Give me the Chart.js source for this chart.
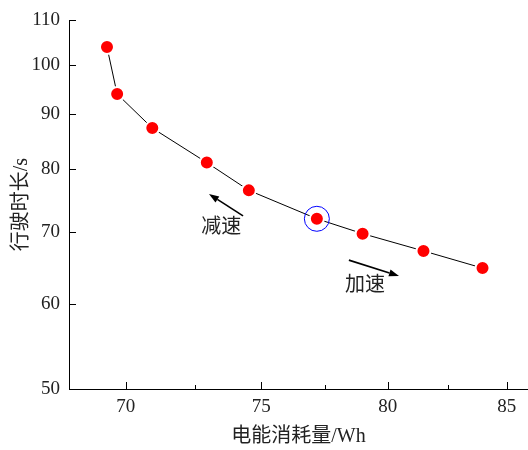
<!DOCTYPE html>
<html>
<head>
<meta charset="utf-8">
<script src="https://cdn.jsdelivr.net/npm/chart.js@4/dist/chart.umd.min.js"></script>
<style>
html,body{margin:0;padding:0;background:#fff;}
#wrap{width:528px;height:450px;}
</style>
</head>
<body>
<div id="wrap"><canvas id="c" width="528" height="450"></canvas></div>
<script>
// ---- data ----
const energy = [69.33, 69.69, 70.95, 72.95, 74.53, 77.16, 78.98, 81.47, 83.96];
const duration = [103.9, 93.97, 87.37, 81.15, 76.47, 71.96, 69.71, 67.18, 64.76];
const highlightIndex = 5;
const xTicks = [70, 75, 80, 85];
const xMinorTicks = [72.5, 77.5, 82.5];
const yTicks = [50, 60, 70, 80, 90, 100, 110];
const xTitle = '电能消耗量/Wh';
const yTitle = '行驶时长/s';
const annotations = [
  {label: '减速', from: [74.31, 72.42], to: [73.03, 75.87], text: [73.49, 70.55]},
  {label: '加速', from: [78.43, 65.87], to: [80.46, 63.68], text: [79.08, 62.35]}
];

const FONT = '"Liberation Serif", "Noto Sans CJK SC", serif';

const ticksAndArrows = {
  id: 'ticksAndArrows',
  afterDatasetsDraw(chart) {
    const ctx = chart.ctx;
    const xs = chart.scales.x, ys = chart.scales.y;
    const area = chart.chartArea;
    ctx.save();
    ctx.strokeStyle = '#000';
    ctx.lineWidth = 1;
    ctx.beginPath();
    xTicks.forEach(v => {
      const px = Math.round(xs.getPixelForValue(v)) + 0.5;
      ctx.moveTo(px, area.bottom); ctx.lineTo(px, area.bottom - 7);
    });
    xMinorTicks.forEach(v => {
      const px = Math.round(xs.getPixelForValue(v)) + 0.5;
      ctx.moveTo(px, area.bottom); ctx.lineTo(px, area.bottom - 4);
    });
    yTicks.forEach(v => {
      const py = Math.round(ys.getPixelForValue(v)) + 0.5;
      ctx.moveTo(area.left, py); ctx.lineTo(area.left + 7, py);
    });
    ctx.stroke();

    annotations.forEach(a => {
      const x1 = xs.getPixelForValue(a.from[0]), y1 = ys.getPixelForValue(a.from[1]);
      const x2 = xs.getPixelForValue(a.to[0]), y2 = ys.getPixelForValue(a.to[1]);
      const ang = Math.atan2(y2 - y1, x2 - x1);
      const hl = 10, hw = 3.5;
      const bx = x2 - hl * Math.cos(ang), by = y2 - hl * Math.sin(ang);
      ctx.beginPath();
      ctx.lineWidth = 1.6;
      ctx.moveTo(x1, y1); ctx.lineTo(bx, by);
      ctx.stroke();
      ctx.beginPath();
      ctx.fillStyle = '#000';
      ctx.moveTo(x2, y2);
      ctx.lineTo(bx + hw * Math.sin(ang), by - hw * Math.cos(ang));
      ctx.lineTo(bx - hw * Math.sin(ang), by + hw * Math.cos(ang));
      ctx.closePath();
      ctx.fill();
      ctx.font = '20px ' + FONT;
      ctx.fillStyle = '#222';
      ctx.textAlign = 'center';
      ctx.textBaseline = 'middle';
      ctx.fillText(a.label, xs.getPixelForValue(a.text[0]), ys.getPixelForValue(a.text[1]));
    });
    ctx.restore();
  }
};

new Chart(document.getElementById('c'), {
  type: 'line',
  data: {
    datasets: [
      {
        data: energy.map((x, i) => ({x, y: duration[i]})),
        borderColor: '#000',
        borderWidth: 1,
        pointRadius: 7,
        pointBackgroundColor: '#ff0000',
        pointBorderColor: '#ffffff',
        pointBorderWidth: 2,
        tension: 0,
        order: 2
      },
      {
        data: [{x: energy[highlightIndex], y: duration[highlightIndex]}],
        showLine: false,
        pointRadius: 12.5,
        pointBackgroundColor: 'rgba(0,0,0,0)',
        pointBorderColor: '#0000ff',
        pointBorderWidth: 1,
        order: 1
      }
    ]
  },
  options: {
    responsive: false,
    animation: false,
    events: [],
    layout: {autoPadding: false, padding: {top: 17, right: 0, left: 0, bottom: 0}},
    plugins: {legend: {display: false}, tooltip: {enabled: false}},
    scales: {
      x: {
        type: 'logarithmic',
        min: 68.0,
        max: 85.93,
        afterBuildTicks: s => { s.ticks = xTicks.map(v => ({value: v})); },
        afterFit: s => { s.height = 61; s.paddingRight = 0; s.paddingLeft = 0; },
        grid: {display: false, drawTicks: false},
        border: {display: true, color: '#000', width: 1},
        ticks: {
          autoSkip: false, maxRotation: 0, padding: 7, color: '#222',
          font: {family: FONT, size: 19},
          callback: v => String(v)
        },
        title: {display: true, text: xTitle, color: '#222', font: {family: FONT, size: 20}, padding: {top: 0, bottom: 1}}
      },
      y: {
        type: 'logarithmic',
        min: 50,
        max: 110,
        afterBuildTicks: s => { s.ticks = yTicks.map(v => ({value: v})); },
        afterFit: s => { s.width = 69; },
        grid: {display: false, drawTicks: false},
        border: {display: true, color: '#000', width: 1},
        ticks: {
          autoSkip: false, padding: 9, color: '#222',
          font: {family: FONT, size: 19},
          callback: v => String(v)
        },
        title: {display: true, text: yTitle, color: '#222', font: {family: FONT, size: 20}, padding: {top: 10, bottom: 0}}
      }
    }
  },
  plugins: [ticksAndArrows]
});
</script>
</body>
</html>
